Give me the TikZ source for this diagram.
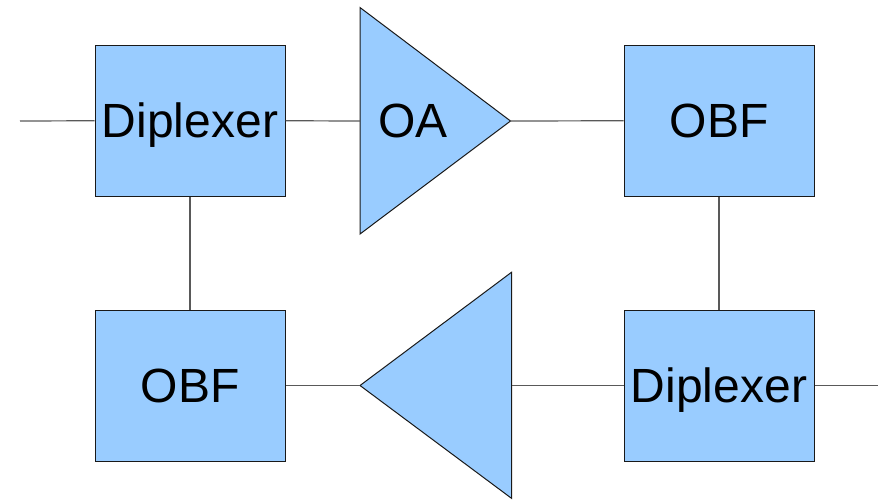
\documentclass[tikz,border=0pt]{standalone}
\usepackage{fontspec}
\setmainfont{Liberation Sans}
\begin{document}
\begin{tikzpicture}[x=1pt,y=-1pt,
  blk/.style={draw=black!90, line width=1pt, fill=boxblue, minimum width=190pt, minimum height=151pt, inner sep=0pt, text height=34.4pt, text depth=0pt, font=\fontsize{48}{48}\selectfont},
  lbl/.style={inner sep=0pt, text height=34.4pt, text depth=0pt, font=\fontsize{48}{48}\selectfont},
  amp/.style={draw=black!90, line width=1pt, fill=boxblue, line join=miter},
  wire/.style={draw=black!65, line width=1.2pt}]
\definecolor{boxblue}{HTML}{99CCFF}
\useasboundingbox (0,0) rectangle (878,499);
% boxes
\node[blk] (dip1) at (190,120.75) {Diplexer};
\node[blk] (obf1) at (719,120.75) {OBF};
\node[blk] (obf2) at (190,385.5) {OBF};
\node[blk] (dip2) at (719,385.5) {Diplexer};
% amplifier triangles
\coordinate (oaIn) at (360,121);
\coordinate (oaOut) at (510.5,121);
\filldraw[amp] (360,7.5) -- (oaOut) -- (360,234) -- cycle;
\node[lbl] (oa) at (413,120.75) {OA};
\coordinate (raIn) at (511.5,385.5);
\coordinate (raOut) at (360,385.5);
\filldraw[amp] (511.5,272.3) -- (raOut) -- (511.5,498.3) -- cycle;
% free ends
\coordinate (inL) at (20,121);
\coordinate (outR) at (878,385.5);
% connectors
\draw[wire] (inL) -- (dip1.west);
\draw[wire] (dip1.east) -- (oaIn);
\draw[wire] (oaOut) -- (obf1.west);
\draw[wire] (obf1.south) -- (dip2.north);
\draw[wire] (dip2.east) -- (outR);
\draw[wire] (dip2.west) -- (raIn);
\draw[wire] (raOut) -- (obf2.east);
\draw[wire] (obf2.north) -- (dip1.south);
\end{tikzpicture}
\end{document}
